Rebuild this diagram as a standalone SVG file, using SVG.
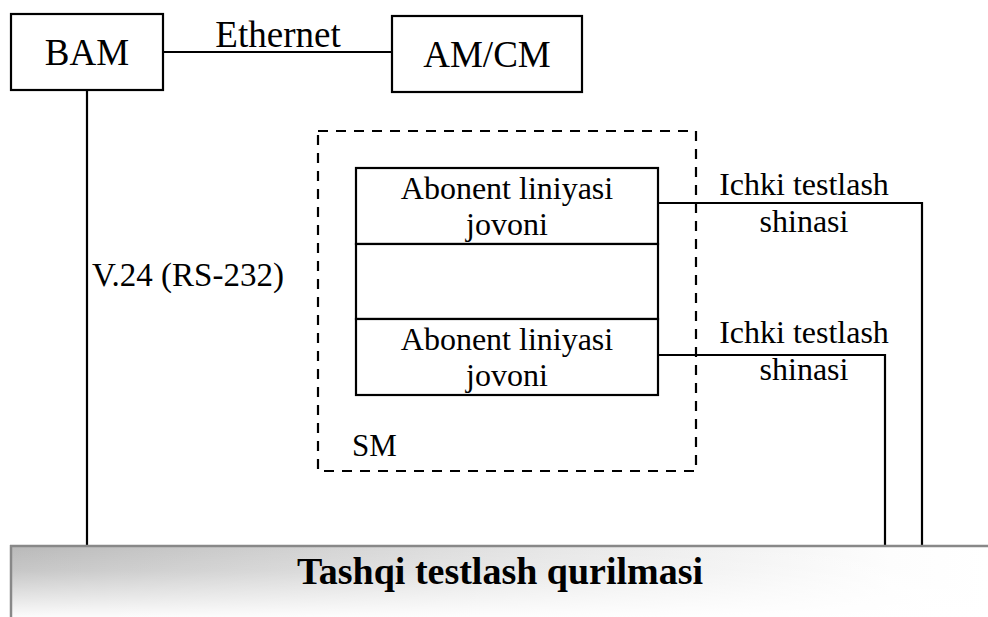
<svg xmlns="http://www.w3.org/2000/svg" width="988" height="617" viewBox="0 0 988 617">
<style>
  text { font-family: "Liberation Serif", "Times New Roman", serif; fill: #000; }
  .box { fill: #fff; stroke: #000; stroke-width: 2.2; }
  .wire { fill: none; stroke: #000; stroke-width: 2.2; }
  .dash { fill: none; stroke: #000; stroke-width: 2.2; stroke-dasharray: 10 8; }
  .big { font-size: 37px; }
  .mid { font-size: 32px; }
</style>
<defs>
  <linearGradient id="gh" x1="0" y1="0" x2="1" y2="0">
    <stop offset="0" stop-color="#b9b9b9"/>
    <stop offset="0.55" stop-color="#e6e6e6"/>
    <stop offset="0.9" stop-color="#fdfdfd"/>
    <stop offset="1" stop-color="#ffffff"/>
  </linearGradient>
  <linearGradient id="gv" x1="0" y1="0" x2="0" y2="1">
    <stop offset="0" stop-color="#fff" stop-opacity="0"/>
    <stop offset="0.35" stop-color="#fff" stop-opacity="0.2"/>
    <stop offset="1" stop-color="#fff" stop-opacity="0.95"/>
  </linearGradient>
</defs>
<rect width="988" height="617" fill="#fff"/>

<g id="connectors">
  <line class="wire" x1="163" y1="52" x2="392" y2="52"/>
  <line class="wire" x1="87" y1="90" x2="87" y2="547"/>
  <polyline class="wire" points="658,203 922,203 922,547"/>
  <polyline class="wire" points="658,355 885,355 885,547"/>
  <text class="big" x="278" y="47" text-anchor="middle">Ethernet</text>
  <text x="92" y="286" style="font-size:33px">V.24 (RS-232)</text>
  <text class="mid" x="804" y="195" text-anchor="middle">Ichki testlash</text>
  <text class="mid" x="804" y="232" text-anchor="middle">shinasi</text>
  <text class="mid" x="804" y="343" text-anchor="middle">Ichki testlash</text>
  <text class="mid" x="804" y="380" text-anchor="middle">shinasi</text>
</g>

<g id="bam">
  <rect class="box" x="11" y="14" width="152" height="76"/>
  <text class="big" x="87" y="65" text-anchor="middle">BAM</text>
</g>

<g id="amcm">
  <rect class="box" x="392" y="16" width="190" height="76"/>
  <text class="big" x="487" y="67" text-anchor="middle">AM/CM</text>
</g>

<g id="sm">
  <rect class="dash" x="318" y="131" width="378" height="340"/>
  <text style="font-size:31px" x="352" y="456">SM</text>
</g>

<g id="abonent1">
  <rect class="box" x="356" y="168" width="302" height="76"/>
  <text class="mid" x="507" y="199" text-anchor="middle">Abonent liniyasi</text>
  <text class="mid" x="507" y="235" text-anchor="middle">jovoni</text>
</g>

<g id="blank">
  <rect class="box" x="356" y="244" width="302" height="75"/>
</g>

<g id="abonent2">
  <rect class="box" x="356" y="319" width="302" height="76"/>
  <text class="mid" x="507" y="350" text-anchor="middle">Abonent liniyasi</text>
  <text class="mid" x="507" y="386" text-anchor="middle">jovoni</text>
</g>

<g id="tashqi">
  <rect x="11" y="546" width="977" height="71" fill="url(#gh)"/>
  <rect x="11" y="546" width="977" height="71" fill="url(#gv)"/>
  <line x1="10" y1="546" x2="988" y2="546" stroke="#888" stroke-width="2.5"/>
  <line x1="11" y1="545" x2="11" y2="617" stroke="#888" stroke-width="2.5"/>
  <text x="500" y="584" text-anchor="middle" style="font-size:38px;font-weight:bold">Tashqi testlash qurilmasi</text>
</g>
</svg>
